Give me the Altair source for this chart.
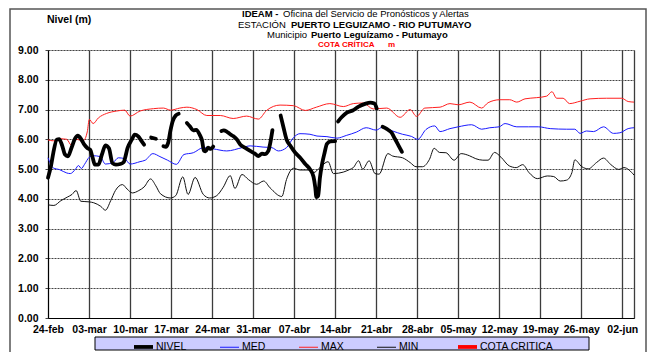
import json
import altair as alt
import pandas as pd

# ---------------- data (day 0 = 24-feb) ----------------
tick_labels = ['24-feb', '03-mar', '10-mar', '17-mar', '24-mar', '31-mar', '07-abr',
               '14-abr', '21-abr', '28-abr', '05-may', '12-may', '19-may', '26-may', '02-jun']
tick_days = [0, 7, 14, 21, 28, 35, 42, 49, 56, 63, 70, 77, 84, 91, 98, 100]

max_days = [0, 0.9, 2.0, 3.2, 4.0, 4.9, 6.0, 6.7, 7.05, 7.7, 8.6, 10.0, 11.7, 13.1, 14.0, 15.7,
            18.0, 19.7, 20.9, 22.5, 23.7, 25.4, 27.1, 29.4, 31.6, 33.9, 35.9, 37.3, 39.6, 41.9,
            43.9, 45.8, 48.1, 50.4, 52.1, 53.8, 55.5, 57.8, 60.1, 61.8, 62.9, 64.3, 66.9, 68.6,
            70.0, 72.0, 74.0, 75.1, 77.1, 78.8, 80.0, 81.4, 83.4, 85.1, 86.0, 86.8, 87.9, 89.0,
            90.8, 92.5, 95.3, 97.9, 99.0, 100]
max_vals = [5.98, 5.95, 6.02, 6.0, 5.8, 6.0, 5.95, 6.25, 6.67, 6.53, 6.72, 6.87, 6.95, 6.98, 6.78,
            6.95, 7.03, 7.05, 6.98, 7.05, 7.08, 7.0, 6.8, 6.8, 6.7, 6.78, 6.68, 6.97, 7.15, 7.13,
            6.97, 7.08, 7.2, 7.1, 7.2, 7.22, 7.02, 7.05, 6.74, 7.0, 6.77, 7.05, 7.08, 7.2, 7.16,
            7.25, 7.05, 7.23, 7.33, 7.33, 7.25, 7.36, 7.4, 7.45, 7.6, 7.38, 7.38, 7.2, 7.28, 7.36,
            7.38, 7.38, 7.27, 7.25]

med_days = [0, 0.9, 2.0, 3.2, 3.8, 4.7, 5.2, 5.7, 6.2, 7.05, 7.7, 8.9, 9.8, 11.1, 12.0, 13.1,
            14.0, 15.7, 16.6, 17.9, 19.1, 20.4, 21.9, 23.2, 24.8, 26.5, 28.2, 30.5, 33.1, 34.5,
            36.7, 38.2, 39.3, 40.7, 41.9, 43.0, 44.7, 45.9, 47.6, 49.3, 50.9, 52.6, 54.3, 56.0,
            57.1, 58.8, 60.5, 62.0, 63.1, 64.5, 66.0, 66.9, 68.6, 70.0, 72.3, 74.0, 75.4, 77.0,
            78.0, 80.0, 82.0, 83.7, 85.7, 88.5, 89.9, 90.8, 91.9, 93.1, 94.8, 96.5, 97.6, 99.0, 100]
med_vals = [5.38, 5.04, 4.98, 4.87, 4.85, 5.0, 5.12, 5.02, 5.15, 5.4, 5.45, 5.42, 5.17, 5.22, 5.38,
            5.35, 5.17, 5.25, 5.3, 5.52, 5.42, 5.3, 5.16, 5.49, 5.55, 5.72, 5.68, 5.61, 5.72, 5.78,
            5.74, 5.72, 5.61, 5.72, 6.06, 6.19, 6.17, 6.11, 6.09, 6.04, 6.13, 6.24, 6.39, 6.31,
            6.41, 6.28, 6.17, 6.1, 6.0, 6.33, 6.45, 6.26, 6.36, 6.42, 6.49, 6.34, 6.39, 6.42, 6.53,
            6.42, 6.42, 6.42, 6.36, 6.34, 6.34, 6.2, 6.28, 6.26, 6.42, 6.2, 6.22, 6.36, 6.39]

min_days = [0, 1.0, 2.2, 3.3, 4.1, 4.8, 5.6, 7.0, 7.8, 9.0, 9.8, 10.7, 11.5, 12.7, 13.5, 14.4,
            15.5, 16.4, 17.5, 18.4, 19.2, 20.9, 21.8, 23.0, 23.9, 25.1, 26.5, 27.6, 28.8, 29.9,
            31.1, 31.9, 33.1, 34.2, 35.6, 36.8, 37.9, 39.9, 40.7, 41.9, 43.0, 44.4, 45.3, 46.4,
            47.8, 48.7, 50.4, 51.4, 52.1, 53.0, 53.7, 54.8, 55.8, 56.5, 58.0, 58.8, 60.5, 61.8,
            62.8, 63.9, 65.1, 65.9, 66.8, 67.9, 69.3, 70.5, 71.9, 73.0, 74.2, 75.1, 76.2, 77.3,
            78.7, 79.9, 81.0, 82.1, 83.5, 85.2, 86.3, 87.4, 88.5, 89.4, 89.9, 91.1, 92.2, 93.6,
            94.8, 96.0, 97.4, 98.3, 100]
min_vals = [3.8, 3.78, 3.94, 4.06, 4.15, 4.28, 3.92, 3.9, 3.87, 3.75, 3.62, 3.94, 4.28, 4.48, 4.33,
            4.2, 4.28, 4.4, 4.67, 4.44, 4.17, 4.03, 4.11, 4.74, 4.15, 4.72, 4.15, 4.03, 4.11, 4.39,
            4.78, 4.35, 4.82, 4.65, 4.49, 4.6, 4.37, 4.08, 4.65, 5.03, 4.97, 4.97, 4.88, 5.05, 5.25,
            4.85, 4.9, 4.98, 5.05, 5.28, 5.0, 5.28, 4.85, 4.83, 5.52, 5.44, 5.38, 5.22, 5.08, 5.08,
            5.33, 5.7, 5.56, 5.55, 5.3, 5.52, 5.45, 5.35, 5.3, 5.3, 5.56, 5.4, 5.11, 5.05, 5.15,
            4.88, 4.68, 4.77, 4.75, 4.6, 4.63, 4.88, 5.31, 5.08, 5.01, 5.22, 5.37, 5.16, 4.99, 5.05,
            4.8]

# NIVEL (observed level), in separate stretches with gaps between them
nivel_days_1 = [0, 0.5, 0.9, 1.5, 1.9, 2.4, 2.9, 3.4, 4.0, 4.6, 5.1, 5.7, 6.2, 6.7, 7.2, 7.6,
                8.0, 8.6, 9.2, 9.8, 10.4, 11.0, 11.6, 12.3, 12.9, 13.6, 14.3, 14.8, 15.4, 16.0, 16.4]
nivel_vals_1 = [4.71, 5.1, 5.54, 5.99, 6.01, 5.8, 5.49, 5.43, 5.71, 6.02, 6.12, 5.99, 5.82, 5.71,
                5.65, 5.4, 5.15, 5.15, 5.49, 5.8, 5.7, 5.2, 5.15, 5.17, 5.23, 5.72, 5.99, 6.16, 6.1,
                5.93, 5.82]
nivel_days_2 = [17.6, 18.4]
nivel_vals_2 = [6.06, 6.02]
nivel_days_3 = [19.7, 20.1, 20.5, 20.9, 21.3, 21.8, 22.3]
nivel_vals_3 = [5.77, 5.75, 5.88, 6.3, 6.62, 6.8, 6.86]
nivel_days_4 = [23.7, 24.2, 24.8, 25.3, 25.9, 26.3, 26.6, 26.9, 27.3, 27.8, 28.2]
nivel_vals_4 = [6.55, 6.44, 6.3, 6.32, 6.15, 5.95, 5.62, 5.6, 5.72, 5.68, 5.76]
nivel_days_5 = [29.6, 30.0, 30.5, 31.1, 31.6, 32.2, 32.8, 33.6, 34.5, 35.3, 35.9, 36.5, 37.0,
                37.6, 37.9, 38.3]
nivel_vals_5 = [6.28, 6.3, 6.26, 6.17, 6.11, 6.0, 5.83, 5.72, 5.61, 5.52, 5.44, 5.52, 5.5, 5.61,
                5.85, 6.31]
nivel_days_6 = [39.7, 40.2, 40.7, 41.3, 42.2, 43.0, 43.9, 44.7, 45.3, 45.6, 45.8, 46.1, 46.4,
                46.8, 47.2, 47.6, 48.2, 49.0]
nivel_vals_6 = [6.8, 6.39, 6.0, 5.8, 5.55, 5.39, 5.17, 5.0, 4.75, 4.4, 4.06, 4.1, 4.7, 5.2, 5.55,
                5.85, 5.93, 5.94]
nivel_days_7 = [49.5, 50.1, 51.0, 52.0, 53.0, 54.1, 55.0, 55.7, 56.1]
nivel_vals_7 = [6.6, 6.74, 6.9, 6.97, 7.1, 7.19, 7.23, 7.2, 7.03]
nivel_days_8 = [57.1, 57.8, 58.6, 59.2, 59.8, 60.4]
nivel_vals_8 = [6.42, 6.35, 6.23, 6.02, 5.8, 5.58]

series_names = ['NIVEL', 'MED', 'MAX', 'MIN', 'COTA CRITICA']

# ---------------- tables ----------------
ref_df = pd.concat([
    pd.DataFrame({'dia': min_days, 'nivel': min_vals, 'serie': 'MIN'}),
    pd.DataFrame({'dia': med_days, 'nivel': med_vals, 'serie': 'MED'}),
    pd.DataFrame({'dia': max_days, 'nivel': max_vals, 'serie': 'MAX'}),
], ignore_index=True)

nivel_parts = [(nivel_days_1, nivel_vals_1), (nivel_days_2, nivel_vals_2), (nivel_days_3, nivel_vals_3),
               (nivel_days_4, nivel_vals_4), (nivel_days_5, nivel_vals_5), (nivel_days_6, nivel_vals_6),
               (nivel_days_7, nivel_vals_7), (nivel_days_8, nivel_vals_8)]
niv_df = pd.concat([pd.DataFrame({'dia': d, 'nivel': v, 'serie': 'NIVEL', 'tramo': i})
                    for i, (d, v) in enumerate(nivel_parts)], ignore_index=True)

dummy = pd.DataFrame({'k': [0]})

FONT = 'Liberation Sans'

label_expr = ("datum.value % 7 == 0 ? " + json.dumps(tick_labels) +
              "[datum.value / 7] : ''")

x_enc = alt.X('dia:Q', scale=alt.Scale(domain=[0, 100], nice=False, zero=False),
              axis=alt.Axis(values=tick_days, labelExpr=label_expr, title=None, grid=True,
                            gridColor='#3c3c3c', gridWidth=1.3, tickSize=0, labelPadding=6,
                            domainColor='black', labelFont=FONT, labelFontSize=10.5,
                            labelFontWeight='bold', labelColor='black', labelOverlap=False,
                            labelFlush=False))
y_enc = alt.Y('nivel:Q', scale=alt.Scale(domain=[0, 9], nice=False),
              axis=alt.Axis(values=list(range(10)), format='.2f', title=None, grid=True,
                            gridDash=[2, 1], gridColor='#444444', tickSize=3, tickColor='#444444',
                            labelPadding=7, domainColor='black', labelFont=FONT,
                            labelFontSize=10.5, labelFontWeight='bold', labelColor='black'))

legend = alt.Legend(orient='none', legendX=84, legendY=285, direction='horizontal', title=None,
                    symbolType='stroke', symbolSize=361, labelFont=FONT, labelFontSize=10.5,
                    labelColor='black', columnPadding=31, padding=0, labelOffset=1, columns=5)

color_enc = alt.Color('serie:N', scale=alt.Scale(domain=series_names,
                                                 range=['#000000', '#1a1aff', '#ff2020', '#111111', '#ff0000']),
                      legend=legend)
width_enc = alt.StrokeWidth('serie:N', scale=alt.Scale(type='ordinal', domain=series_names,
                                                       range=[3.8, 1, 1, 1, 3.8]),
                            legend=legend)

ref_lines = alt.Chart(ref_df).mark_line(interpolate='monotone').encode(
    x=x_enc, y=y_enc, color=color_enc, strokeWidth=width_enc)

niv_lines = alt.Chart(niv_df).mark_line(interpolate='monotone', strokeCap='round',
                                        strokeJoin='round').encode(
    x=x_enc, y=y_enc, color=color_enc, strokeWidth=width_enc, detail='tramo:N')


def txt(s, x, y, bold=False, size=9.5, color='black'):
    return alt.Chart(dummy).mark_text(align='left', baseline='middle', font=FONT, fontSize=size,
                                      fontWeight='bold' if bold else 'normal', color=color).encode(
        x=alt.value(x), y=alt.value(y), text=alt.value(s))


texts = [
    txt('Nivel (m)', -1, -30, bold=True, size=10.5),
    txt('IDEAM -', 194, -36, bold=True),
    txt('Oficina del Servicio de Pronósticos y Alertas', 235, -36),
    txt('ESTACIÓN', 190, -25.5),
    txt('PUERTO LEGUIZAMO  - RIO PUTUMAYO', 243, -25.5, bold=True),
    txt('Municipio', 219, -15),
    txt('Puerto Leguízamo - Putumayo', 263, -15, bold=True),
    txt('COTA CRÍTICA', 270, -5.5, bold=True, size=8, color='#ff0000'),
    txt('m', 340, -5.5, bold=True, size=8, color='#ff0000'),
]

frame = alt.Chart(dummy).mark_rect(fillOpacity=0, stroke='#555555', strokeWidth=1.5).encode(
    x=alt.value(-38), x2=alt.value(598), y=alt.value(-41), y2=alt.value(320))

legend_box = alt.Chart(dummy).mark_rect(fill='#ccccff', stroke='black', strokeWidth=1).encode(
    x=alt.value(47), x2=alt.value(541), y=alt.value(287), y2=alt.value(300))

chart = alt.layer(frame, legend_box, ref_lines, niv_lines, *texts).properties(
    width=586, height=268,
    padding={'left': 40, 'top': 42, 'right': 14, 'bottom': 34},
    autosize=alt.AutoSizeParams(type='none'),
).configure_view(stroke=None).configure(background='white')

chart.save('out.html', embed_options={'renderer': 'svg', 'actions': False})
